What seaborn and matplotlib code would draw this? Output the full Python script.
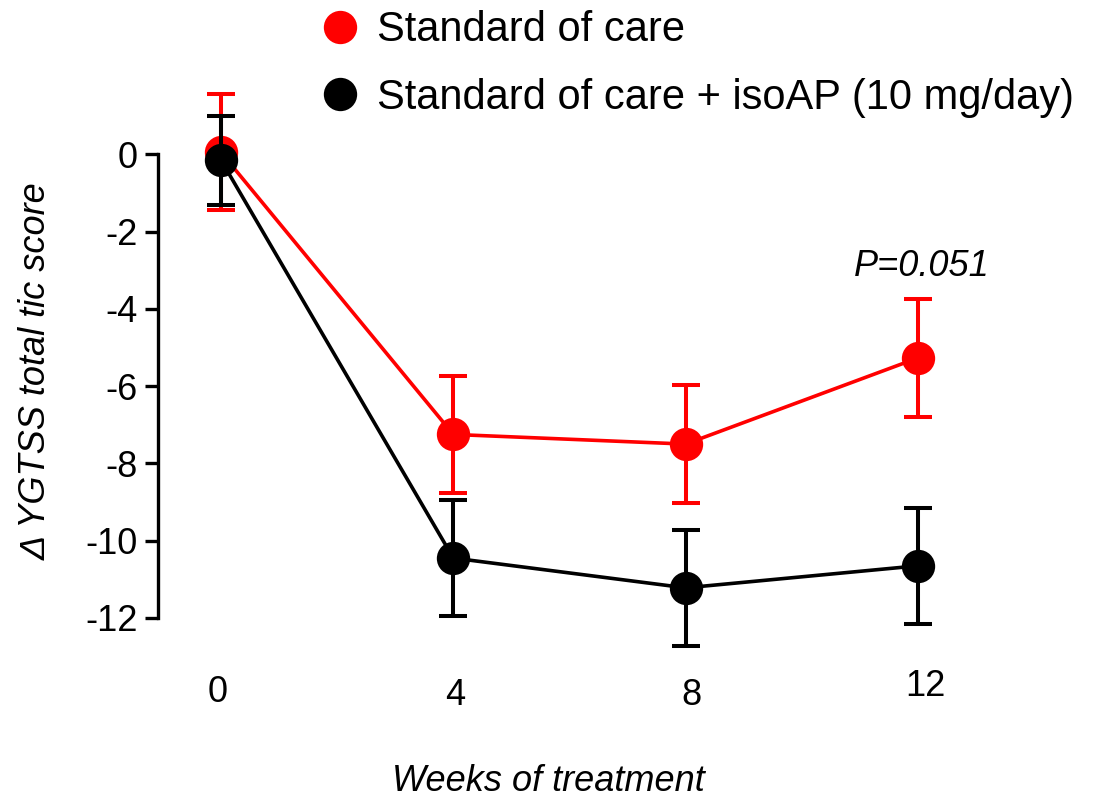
import numpy as np
import pandas as pd
import matplotlib
matplotlib.use("Agg")
import matplotlib.pyplot as plt
import matplotlib.transforms as mtransforms
from matplotlib.lines import Line2D
import seaborn as sns

# ── Données ──────────────────────────────────────────────────────────────────
weeks = [0, 4, 8, 12]
groups = ["Standard of care", "Standard of care + isoAP (10 mg/day)"]
soc_mean = [0.05, -7.25, -7.5, -5.27]
soc_sem = [1.5, 1.52, 1.52, 1.52]
iso_mean = [-0.15, -10.45, -11.22, -10.65]
iso_sem = [1.15, 1.5, 1.5, 1.5]
yticks = [0, -2, -4, -6, -8, -10, -12]
p_label = "P=0.051"

# ── Style ────────────────────────────────────────────────────────────────────
sns.set_style("white")
plt.rcParams.update({
    "font.family": ["Liberation Sans", "DejaVu Sans"],
    "axes.unicode_minus": False,
    "text.color": "black",
    "axes.labelcolor": "black",
    "xtick.color": "black",
    "ytick.color": "black",
})

COLORS = {groups[0]: "#ff0000", groups[1]: "#000000"}

df = pd.DataFrame({
    "week": weeks * 2,
    "score": soc_mean + iso_mean,
    "sem": soc_sem + iso_sem,
    "group": [groups[0]] * 4 + [groups[1]] * 4,
})

fig = plt.figure(figsize=(11.02, 7.98), dpi=100)
ax = fig.add_axes([0.1434, 0.1675, 0.7423, 0.7360])

sns.lineplot(data=df, x="week", y="score", hue="group", palette=COLORS,
             marker="o", markersize=24, markeredgewidth=0, linewidth=2.6,
             legend=False, ax=ax, zorder=3)

for i, g in enumerate(groups):
    sub = df[df["group"] == g]
    ax.errorbar(sub["week"], sub["score"], yerr=sub["sem"], fmt="none",
                ecolor=COLORS[g], elinewidth=2.9, capsize=10, capthick=2.9,
                zorder=2 + 2 * i)

ax.set_xlim(-1.084, 13)
ax.set_ylim(-13.2, 2)

sns.despine(ax=ax, top=True, right=True, bottom=True)
ax.spines["left"].set_bounds(-12, 0)
ax.spines["left"].set_linewidth(2.4)
ax.spines["left"].set_color("black")

ax.set_yticks(yticks)
ax.set_yticklabels([str(t) for t in yticks])
ax.tick_params(axis="y", direction="out", length=9.4, width=2.4, pad=5.0,
               labelsize=26, left=True)
ax.set_xticks(weeks)
ax.set_xticklabels([str(w) for w in weeks])
ax.tick_params(axis="x", length=0, pad=9, labelsize=26)

# décalages des étiquettes de l'axe x (comme sur l'original)
offsets = [(-3.5, 2), (2, -1.5), (6, -1), (7, 8)]
for lbl, (dx, dy) in zip(ax.get_xticklabels(), offsets):
    lbl.set_transform(lbl.get_transform() +
                      mtransforms.ScaledTranslation(dx / 100, dy / 100, fig.dpi_scale_trans))

ax.set_ylabel("Δ YGTSS total tic score", fontsize=26, style="italic")
ax.yaxis.set_label_coords(-0.128, 0.5)
ax.set_xlabel("Weeks of treatment", fontsize=26, style="italic")
ax.xaxis.set_label_coords(0.477, -0.17)

ax.text(weeks[-1] + 0.06, soc_mean[-1] + soc_sem[-1] + 0.85, p_label,
        fontsize=26, style="italic", ha="center", va="center")

handles = [Line2D([], [], linestyle="none", marker="o", markersize=24,
                  markeredgewidth=0, color=COLORS[g]) for g in groups]
fig.legend(handles, groups, loc="upper left", bbox_to_anchor=(0.2895, 0.987),
           frameon=False, fontsize=30, handlelength=1.0, handletextpad=0.38,
           borderpad=0, borderaxespad=0, labelspacing=0.66)

fig.savefig("out.png", dpi=100)
